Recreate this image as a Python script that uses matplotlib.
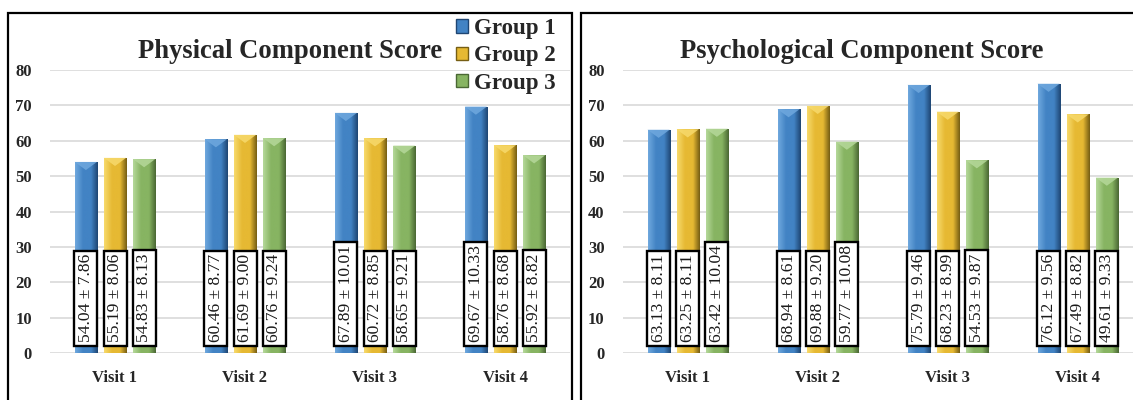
import numpy as np
import matplotlib.pyplot as plt
from matplotlib.colors import LinearSegmentedColormap
from matplotlib.patches import Rectangle, Patch, Polygon

visits = ["Visit 1", "Visit 2", "Visit 3", "Visit 4"]
groups = ["Group 1", "Group 2", "Group 3"]

phys_mean = [
    [54.04, 60.46, 67.89, 69.67],
    [55.19, 61.69, 60.72, 58.76],
    [54.83, 60.76, 58.65, 55.92],
]
phys_sd = [
    [7.86, 8.77, 10.01, 10.33],
    [8.06, 9.00, 8.85, 8.68],
    [8.13, 9.24, 9.21, 8.82],
]
psych_mean = [
    [63.13, 68.94, 75.79, 76.12],
    [63.25, 69.88, 68.23, 67.49],
    [63.42, 59.77, 54.53, 49.61],
]
psych_sd = [
    [8.11, 8.61, 9.46, 9.56],
    [8.11, 9.20, 8.99, 8.82],
    [10.04, 10.08, 9.87, 9.33],
]

# light / mid / dark shades per group for the bevelled look
shades = [
    ("#6fa8de", "#4283c4", "#1f4673"),
    ("#f7da6c", "#e6b933", "#765e14"),
    ("#b5d89a", "#87b462", "#4a6834"),
]

plt.rcParams['font.family'] = ['Liberation Serif', 'DejaVu Serif']

W, H = 1133, 400
fig = plt.figure(figsize=(W / 100, H / 100), dpi=100)


def draw_panel(rect, xmax, means, sds, title, title_x):
    ax = fig.add_axes(rect)
    x = np.arange(len(visits))
    width = 0.17
    step = 0.224
    for g in range(len(groups)):
        light, mid, dark = shades[g]
        cmap = LinearSegmentedColormap.from_list(
            "b%d" % g, [(0, light), (0.35, mid), (0.7, mid), (1, dark)])
        bars = ax.bar(x + (g - 1) * step, means[g], width, color=mid,
                      zorder=2, linewidth=0)
        for b, m, s in zip(bars, means[g], sds[g]):
            x0, x1 = b.get_x(), b.get_x() + b.get_width()
            grad = np.linspace(0, 1, 64).reshape(1, -1)
            im = ax.imshow(grad, cmap=cmap, extent=[x0, x1, 0, m],
                           aspect='auto', zorder=2.1, origin='lower')
            im.set_clip_path(b)
            xc = (x0 + x1) / 2
            tri = Polygon([[x0, m], [x1, m], [xc, m - 2.3]], closed=True,
                          facecolor=light, edgecolor='none', alpha=0.85,
                          zorder=2.2)
            ax.add_patch(tri)
            ax.text(b.get_x() + b.get_width() / 2, 3.1,
                    "%.2f \u00b1 %.2f" % (m, s), rotation=90,
                    ha='center', va='bottom', fontsize=12.6, zorder=4,
                    color='#1a1a1a',
                    bbox=dict(boxstyle='square,pad=0.2', facecolor='white',
                              edgecolor='black', linewidth=1.7))
    ax.set_xlim(-0.5, xmax)
    ax.set_ylim(0, 80)
    ax.set_yticks(range(0, 81, 10))
    ax.set_xticks(x)
    ax.set_xticklabels(visits)
    ax.yaxis.grid(True, color='#d9d9d9', linewidth=1.2, zorder=0)
    ax.set_axisbelow(True)
    for sp in ax.spines.values():
        sp.set_visible(False)
    ax.tick_params(length=0)
    ax.tick_params(axis='y', pad=13, labelsize=12)
    ax.tick_params(axis='x', pad=12, labelsize=12)
    for lab in ax.get_xticklabels() + ax.get_yticklabels():
        lab.set_fontweight('bold')
        lab.set_color('#262626')
    fig.text(title_x / W, 1 - 58 / H, title, ha='center', va='baseline',
             fontsize=19.2, fontweight='bold', color='#262626')
    return ax


bottom = (H - 353.3) / H
height = (353.3 - 70) / H

draw_panel([50 / W, bottom, 520 / W, height], 3.5,
           phys_mean, phys_sd, "Physical Component Score", 290)
draw_panel([622.7 / W, bottom, (W - 622.7) / W, height],
           -0.5 + (W - 622.7) / 130.0,
           psych_mean, psych_sd, "Psychological Component Score", 862)

# panel frames
fig.patches.append(Rectangle((8 / W, -0.1), (571.7 - 8) / W, 1.1 - 12.7 / H,
                             transform=fig.transFigure, fill=False,
                             edgecolor='black', linewidth=1.6))
fig.patches.append(Rectangle((580.7 / W, -0.1), 0.6, 1.1 - 12.7 / H,
                             transform=fig.transFigure, fill=False,
                             edgecolor='black', linewidth=1.6))

handles = [Patch(facecolor=shades[g][1], edgecolor=shades[g][2], linewidth=1)
           for g in range(len(groups))]
leg = fig.legend(handles, groups, loc='upper left',
                 bbox_to_anchor=(456 / W, 1 - 18 / H), frameon=False,
                 prop={'weight': 'bold', 'size': 16.5}, handlelength=0.52,
                 handleheight=0.52, handletextpad=0.25, labelspacing=0.28,
                 borderpad=0, borderaxespad=0)
for t in leg.get_texts():
    t.set_color('#262626')

fig.savefig("out.png", dpi=100)
